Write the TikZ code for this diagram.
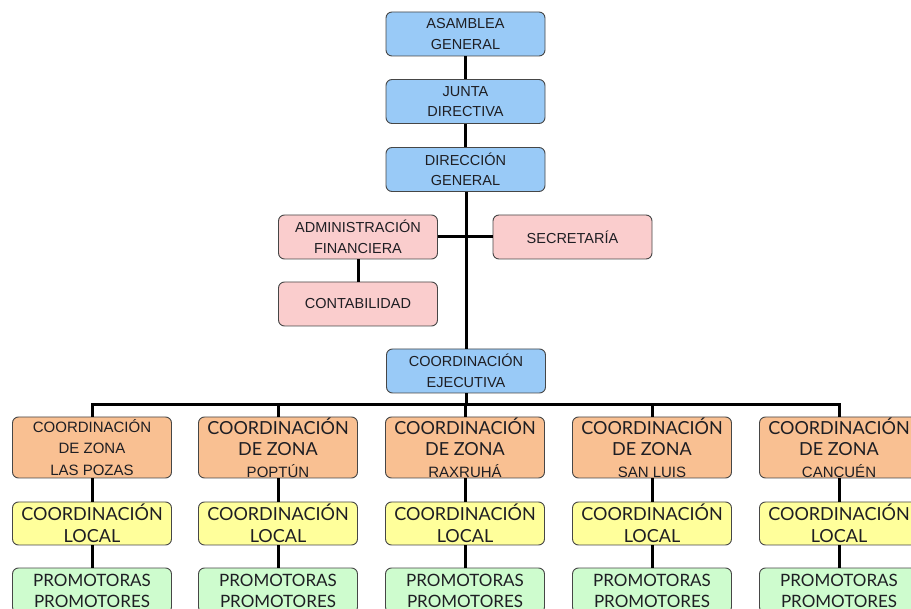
\documentclass[tikz,border=0pt]{standalone}
\usepackage{fontspec}
\setmainfont{Liberation Sans}
\newfontfamily\gillfont{Lato}
\newcommand{\gill}[1]{{\gillfont\fontsize{18}{21.5}\selectfont #1}}

\definecolor{azul}{RGB}{153,202,247}
\definecolor{rosa}{RGB}{250,205,205}
\definecolor{naranja}{RGB}{249,192,146}
\definecolor{amarillo}{RGB}{255,255,155}
\definecolor{verde}{RGB}{206,252,206}
\definecolor{borde}{RGB}{70,70,70}
\definecolor{letra}{RGB}{30,30,35}

\begin{document}
\begin{tikzpicture}[x=1pt,y=-1pt]
\tikzset{caja/.style={draw=borde, line width=0.9pt, rounded corners=6pt, minimum width=159pt,
  minimum height=44pt, inner sep=0pt, align=center, text=letra, font=\fontsize{14.5}{20.5}\selectfont},
  zona/.style={caja, fill=naranja, minimum height=61pt, font=\fontsize{15}{21.5}\selectfont},
  linea/.style={line width=3pt, black}}
\useasboundingbox (0,0) rectangle (911,609);
\clip (0,0) rectangle (911,609);

\node [caja, fill=azul] (asamblea) at (465.5,34) {ASAMBLEA\\GENERAL};
\node [caja, fill=azul] (junta) at (465.5,101.5) {JUNTA\\DIRECTIVA};
\node [caja, fill=azul] (direccion) at (465.5,169.5) {DIRECCIÓN\\GENERAL};
\node [caja, fill=rosa] (admin) at (358,237) {ADMINISTRACIÓN\\FINANCIERA};
\node [caja, fill=rosa] (secretaria) at (572.5,237) {SECRETARÍA};
\node [caja, fill=rosa] (contab) at (358,304) {CONTABILIDAD};
\node [caja, fill=azul] (coordej) at (466,371) {COORDINACIÓN\\EJECUTIVA};

\node [zona] (zona1) at (92,447.5) {COORDINACIÓN\\DE ZONA\\LAS POZAS};
\node [zona] (zona2) at (278,447.5) {\gill{COORDINACIÓN}\\\gill{DE ZONA}\\POPTÚN};
\node [zona] (zona3) at (465,447.5) {\gill{COORDINACIÓN}\\\gill{DE ZONA}\\RAXRUHÁ};
\node [zona] (zona4) at (652,447.5) {\gill{COORDINACIÓN}\\\gill{DE ZONA}\\SAN LUIS};
\node [zona] (zona5) at (839,447.5) {\gill{COORDINACIÓN}\\\gill{DE ZONA}\\CANCUÉN};

\tikzset{local/.style={caja, fill=amarillo, minimum height=43pt, font=\gillfont\fontsize{18}{22}\selectfont},
  promo/.style={caja, fill=verde, minimum height=45pt, font=\gillfont\fontsize{17}{21}\selectfont}}
\node [local] (local1) at (92,523.5) {COORDINACIÓN\\LOCAL};
\node [local] (local2) at (278,523.5) {COORDINACIÓN\\LOCAL};
\node [local] (local3) at (465,523.5) {COORDINACIÓN\\LOCAL};
\node [local] (local4) at (652,523.5) {COORDINACIÓN\\LOCAL};
\node [local] (local5) at (839,523.5) {COORDINACIÓN\\LOCAL};
\node [promo] (promo1) at (92,590.5) {PROMOTORAS\\PROMOTORES};
\node [promo] (promo2) at (278,590.5) {PROMOTORAS\\PROMOTORES};
\node [promo] (promo3) at (465,590.5) {PROMOTORAS\\PROMOTORES};
\node [promo] (promo4) at (652,590.5) {PROMOTORAS\\PROMOTORES};
\node [promo] (promo5) at (839,590.5) {PROMOTORAS\\PROMOTORES};

\coordinate (bus) at (466,405);
\draw [linea] (asamblea) -- (junta);
\draw [linea] (junta) -- (direccion);
\draw [linea] (direccion.south -| coordej) -- (coordej.north);
\draw [linea] (admin.east) -- (secretaria.west);
\draw [linea] (admin) -- (contab);
\draw [linea] (coordej.south) -- (coordej.south |- bus);
\draw [linea] (zona1.north) -- (zona1.north |- bus) -- (zona5.north |- bus) -- (zona5.north);
\draw [linea] (zona2.north) -- (zona2.north |- bus);
\draw [linea] (zona3.north) -- (zona3.north |- bus);
\draw [linea] (zona4.north) -- (zona4.north |- bus);

\draw [linea] (zona1) -- (local1);
\draw [linea] (zona2) -- (local2);
\draw [linea] (zona3) -- (local3);
\draw [linea] (zona4) -- (local4);
\draw [linea] (zona5) -- (local5);
\draw [linea] (local1) -- (promo1);
\draw [linea] (local2) -- (promo2);
\draw [linea] (local3) -- (promo3);
\draw [linea] (local4) -- (promo4);
\draw [linea] (local5) -- (promo5);
\end{tikzpicture}
\end{document}
